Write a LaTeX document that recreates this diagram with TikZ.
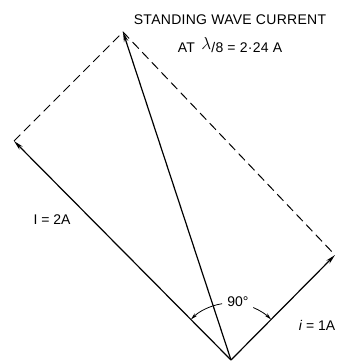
\documentclass[tikz,border=0pt]{standalone}
\usepackage{fontspec}
\setmainfont{Liberation Sans}
\usetikzlibrary{arrows.meta}
\tikzset{
  vec/.style={line width=1.2pt, -{Stealth[length=10pt,width=4.5pt]}},
  side/.style={line width=1pt, dash pattern=on 9pt off 5pt},
  lbl/.style={font=\fontsize{14}{16}\selectfont},
}
\begin{document}
\begin{tikzpicture}[x=1pt,y=1pt]
  \useasboundingbox (0,0) rectangle (344,362);
  \coordinate (O) at (231,2);
  \coordinate (L) at (14,221);
  \coordinate (R) at (335,107);
  \coordinate (T) at (123,330);
  % sides of the parallelogram
  \draw[side] (L) -- (T) -- (R);
  % vectors
  \draw[vec] (O) -- (L);
  \draw[vec] (O) -- (R);
  \draw[vec] (O) -- (T);
  % right angle
  \draw[line width=0.8pt, -{Stealth[length=7pt,width=3.5pt]}] ([shift={(99:57)}]O) arc (99:134.7:57);
  \draw[line width=0.8pt, -{Stealth[length=7pt,width=3.5pt]}] ([shift={(67:57)}]O) arc (67:45.3:57);
  \node[lbl] (ang) at (238,60) {90°};
  \node[lbl] (big) at (52,142) {I = 2A};
  \node[lbl] (small) at (317,37) {\textit{i} = 1A};
  \node[lbl] (title) at (230,342) {\addfontfeatures{LetterSpace=2}STANDING WAVE CURRENT};
  \node[lbl] (value) at (230,317) {\addfontfeatures{LetterSpace=2}AT\, \raisebox{3pt}{\fontsize{18}{18}\selectfont$\lambda$}/8 = 2·24 A};
\end{tikzpicture}
\end{document}
